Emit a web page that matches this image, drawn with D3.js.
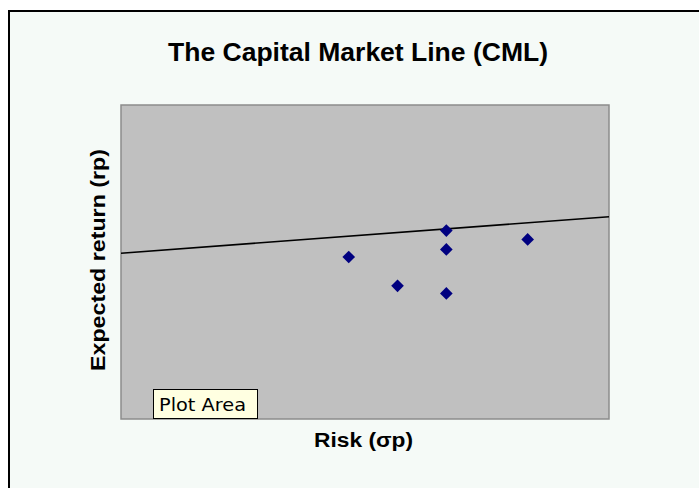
<!DOCTYPE html>
<html>
<head>
<meta charset="utf-8">
<script src="https://cdn.jsdelivr.net/npm/d3@7"></script>
<style>
  html, body { margin: 0; padding: 0; background: #ffffff; }
  svg { display: block; }
</style>
</head>
<body>
<div id="chart"></div>
<script>
// Portfolios: risk (standard deviation) and expected return
const portfolioRisk   = [0.14, 0.17, 0.20, 0.20, 0.20, 0.25];
const portfolioReturn = [0.129, 0.106, 0.150, 0.135, 0.100, 0.143];

// Capital Market Line endpoints (risk-free asset to the right edge)
const cmlRisk   = [0.00, 0.30];
const cmlReturn = [0.132, 0.161];

const titleText  = "The Capital Market Line (CML)";
const xLabelText = "Risk (\u03c3p)";
const yLabelText = "Expected return (rp)";
const tipText    = "Plot Area";

const W = 699, H = 488;
const plot = { left: 121, top: 105, right: 609, bottom: 419 };

const svg = d3.select("#chart").append("svg")
  .attr("width", W).attr("height", H);

// chart frame
svg.append("rect").attr("x", 0).attr("y", 0).attr("width", W).attr("height", H).attr("fill", "#ffffff");
svg.append("rect")
  .attr("x", 9).attr("y", 11).attr("width", W + 20).attr("height", H + 20)
  .attr("fill", "#f5faf7").attr("stroke", "#000").attr("stroke-width", 2);

const x = d3.scaleLinear().domain([0, 0.30]).range([plot.left, plot.right]);
const y = d3.scaleLinear().domain([0, 0.25]).range([plot.bottom, plot.top]);

// plot area
svg.append("rect")
  .attr("x", plot.left).attr("y", plot.top)
  .attr("width", plot.right - plot.left).attr("height", plot.bottom - plot.top)
  .attr("fill", "#c0c0c0").attr("stroke", "#8c8c8c").attr("stroke-width", 1.5);

// CML
const cml = cmlRisk.map((r, i) => [r, cmlReturn[i]]);
svg.append("path")
  .datum(cml)
  .attr("d", d3.line().x(d => x(d[0])).y(d => y(d[1])))
  .attr("fill", "none").attr("stroke", "#000").attr("stroke-width", 1.6);

// portfolio markers (diamonds)
const diamond = d3.symbol().type(d3.symbolSquare).size(80);
svg.append("g").selectAll("path")
  .data(portfolioRisk.map((r, i) => [r, portfolioReturn[i]]))
  .join("path")
  .attr("d", diamond)
  .attr("transform", d => `translate(${x(d[0])},${y(d[1])}) rotate(45)`)
  .attr("fill", "#000080");

// title
svg.append("text")
  .attr("x", 168).attr("y", 61)
  .attr("textLength", 380).attr("lengthAdjust", "spacingAndGlyphs")
  .style("font-family", "'Liberation Sans', Arial, sans-serif")
  .style("font-weight", "bold").style("font-size", "25px")
  .attr("fill", "#000")
  .text(titleText);

// x axis title
svg.append("text")
  .attr("x", 314).attr("y", 447)
  .attr("textLength", 99).attr("lengthAdjust", "spacingAndGlyphs")
  .style("font-family", "'Liberation Sans', Arial, sans-serif")
  .style("font-weight", "bold").style("font-size", "20px")
  .attr("fill", "#000")
  .text(xLabelText);

// y axis title
svg.append("text")
  .attr("transform", "translate(105,371) rotate(-90)")
  .attr("textLength", 222).attr("lengthAdjust", "spacingAndGlyphs")
  .style("font-family", "'Liberation Sans', Arial, sans-serif")
  .style("font-weight", "bold").style("font-size", "20px")
  .attr("fill", "#000")
  .text(yLabelText);

// hover tip over the plot area
const tip = svg.append("g");
tip.append("rect")
  .attr("x", 153.5).attr("y", 389.5).attr("width", 104).attr("height", 29)
  .attr("fill", "#ffffe1").attr("stroke", "#000").attr("stroke-width", 1);
tip.append("text")
  .attr("x", 159).attr("y", 411)
  .attr("textLength", 87).attr("lengthAdjust", "spacingAndGlyphs")
  .style("font-family", "'DejaVu Sans', Verdana, sans-serif")
  .style("font-size", "17px")
  .attr("fill", "#000")
  .text(tipText);
</script>
</body>
</html>
